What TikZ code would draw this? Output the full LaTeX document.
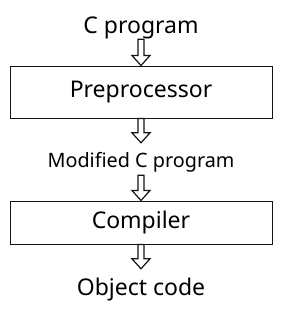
\documentclass[tikz,border=0pt]{standalone}
\usepackage{fontspec}
\setmainfont{Noto Sans}
\usetikzlibrary{calc}
\definecolor{Ink}{HTML}{141414}
\tikzset{
  stage/.style={draw=Ink,line width=1pt,minimum width=262pt,inner sep=0pt},
  label/.style={anchor=base,inner sep=0pt,text height=26pt,text depth=6pt,font=\fontsize{23}{27}\selectfont},
  smalllabel/.style={label,text height=24pt,text depth=8pt,font=\fontsize{19.8}{23}\selectfont},
  hollow/.style={draw=Ink,line width=1.2pt,fill=white,line join=miter}
}
\newcommand{\hollowarrow}[2]{%
  \draw[hollow] let \p1=(#1.south), \p2=(#2.north) in
    (\x1-3pt,\y1) -- (\x1-3pt,\y2+10pt) -- (\x1-9pt,\y2+10pt) -- (\x1,\y2)
    -- (\x1+9pt,\y2+10pt) -- (\x1+3pt,\y2+10pt) -- (\x1+3pt,\y1) -- cycle;}

\begin{document}
\begin{tikzpicture}[x=1pt,y=1pt]
  \useasboundingbox (0,0) rectangle (287,-311);
  \node[label] (cprog) at (141,-33) {C program};
  \node[stage,minimum height=52pt] (prep) at (141,-92) {\fontsize{23}{27}\selectfont Preprocessor};
  \node[smalllabel] (modc) at (141,-167) {Modified C program};
  \node[stage,minimum height=43pt] (comp) at (141,-222.5) {\fontsize{23}{27}\selectfont Compiler};
  \node[label] (obj) at (141,-295) {Object code};

  \hollowarrow{cprog}{prep}
  \hollowarrow{prep}{modc}
  \hollowarrow{modc}{comp}
  \hollowarrow{comp}{obj}
\end{tikzpicture}
\end{document}
